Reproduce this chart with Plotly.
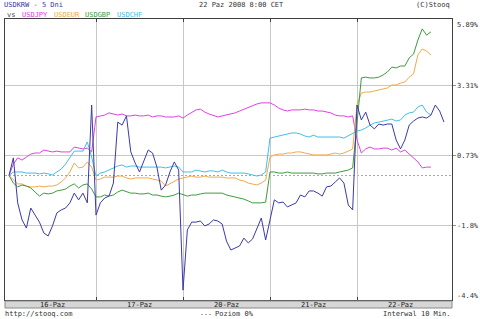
import plotly.graph_objects as go

# ---------------- data ----------------
days = ["16-Paz", "17-Paz", "20-Paz", "21-Paz", "22-Paz"]
sample_step = 0.05  # fraction of a trading day between samples

usdkrw = [0, 0.65, -1.01, -1.64, -1.94, -1.20, -1.46, -1.72, -2.12, -2.23,
          -1.86, -1.38, -1.27, -1.20, -1.01, -0.65, -0.90, -0.65, -1.01, 2.60,
          -1.46, -1.01, -0.83, -0.76, -0.28, 1.97, 1.86, 2.20, 0.87, 0.46,
          0.13, 0.57, 0.94, 0.83, 0.31, -0.54, -0.35, 0.13, 0.50, 0.20,
          -4.23, -2.01, -1.72, -1.72, -1.68, -1.86, -1.79, -1.64, -1.68, -1.79,
          -2.42, -2.75, -2.68, -2.60, -2.31, -2.49, -2.34, -1.97, -1.57, -2.38,
          -1.57, -0.90, -1.01, -0.98, -1.16, -1.09, -1.01, -0.72, -0.79, -0.57,
          -0.57, -0.65, -0.76, -0.42, -0.39, -0.24, -0.09, -0.28, -1.09, -1.27,
          2.60, 2.05, 2.34, 1.86, 1.72, 1.90, 1.86, 1.90, 1.90, 1.31,
          0.98, 1.31, 1.86, 2.01, 2.12, 2.16, 2.12, 2.23, 2.60, 2.38,
          1.97]

usdjpy = [0, 0.42, 0.65, 0.57, 0.68, 0.79, 0.83, 0.83, 0.94, 0.90,
          0.87, 0.90, 0.87, 0.87, 0.87, 1.05, 1.01, 0.98, 1.01, 0.87,
          2.16, 2.20, 2.23, 2.31, 2.27, 2.23, 2.27, 2.20, 2.20, 2.23,
          2.20, 2.20, 2.23, 2.16, 2.20, 2.20, 2.16, 2.16, 2.16, 2.20,
          2.12, 2.23, 2.34, 2.42, 2.45, 2.34, 2.27, 2.20, 2.16, 2.20,
          2.23, 2.27, 2.31, 2.38, 2.45, 2.53, 2.60, 2.64, 2.68, 2.68,
          2.68, 2.60, 2.49, 2.42, 2.38, 2.42, 2.42, 2.42, 2.45, 2.42,
          2.42, 2.38, 2.38, 2.34, 2.31, 2.23, 2.20, 2.20, 2.16, 2.20,
          1.31, 0.83, 0.98, 1.05, 0.98, 0.98, 1.01, 1.01, 0.94, 1.01,
          0.87, 0.94, 0.79, 0.65, 0.50, 0.28, 0.31, 0.31]

usdeur = [0, -0.17, -0.31, -0.31, -0.39, -0.42, -0.42, -0.39, -0.42, -0.39,
          -0.39, -0.35, -0.24, -0.09, 0.13, 0.46, 0.28, 0.31, 0.50, 0.31,
          -0.17, -0.13, -0.06, -0.06, -0.06, -0.02, -0.02, -0.09, -0.13, -0.09,
          -0.09, -0.09, -0.09, -0.13, -0.17, -0.20, -0.39, -0.31, -0.20, -0.13,
          -0.09, -0.06, -0.02, -0.06, -0.06, -0.02, -0.06, -0.06, -0.06, -0.06,
          -0.09, -0.09, -0.09, -0.17, -0.20, -0.28, -0.31, -0.35, -0.28, -0.17,
          0.68, 0.76, 0.79, 0.79, 0.83, 0.83, 0.87, 0.87, 0.83, 0.79,
          0.76, 0.76, 0.76, 0.76, 0.79, 0.83, 0.79, 0.83, 0.90, 0.98,
          2.60, 3.04, 3.08, 3.08, 3.12, 3.16, 3.19, 3.23, 3.34, 3.34,
          3.41, 3.45, 3.63, 3.75, 4.45, 4.67, 4.59, 4.45]

usdgbp = [0, -0.28, -0.42, -0.35, -0.39, -0.46, -0.61, -0.76, -0.65, -0.68,
          -0.65, -0.57, -0.54, -0.50, -0.39, -0.31, -0.46, -0.35, -0.31, -0.50,
          -0.79, -0.79, -0.72, -0.76, -0.72, -0.61, -0.54, -0.61, -0.65, -0.65,
          -0.68, -0.68, -0.65, -0.72, -0.72, -0.76, -0.79, -0.76, -0.72, -0.65,
          -0.72, -0.76, -0.72, -0.72, -0.68, -0.65, -0.65, -0.65, -0.65, -0.65,
          -0.72, -0.76, -0.79, -0.83, -0.87, -0.94, -1.01, -1.01, -1.01, -0.98,
          0.13, 0.13, 0.09, 0.09, 0.13, 0.09, 0.09, 0.09, 0.09, 0.09,
          0.09, 0.06, 0.06, 0.09, 0.09, 0.09, 0.13, 0.17, 0.20, 0.28,
          2.05, 3.60, 3.63, 3.60, 3.60, 3.63, 3.71, 3.82, 4.00, 3.97,
          4.04, 4.04, 4.34, 4.48, 5.00, 5.41, 5.18, 5.30]

usdchf = [0, 0.13, 0.13, 0.13, 0.09, 0.09, 0.09, 0.06, 0.09, 0.06,
          0.02, 0.13, 0.24, 0.42, 0.68, 0.90, 0.90, 0.90, 1.24, 0.68,
          -0.02, 0.09, 0.13, 0.20, 0.28, 0.35, 0.39, 0.31, 0.35, 0.35,
          0.31, 0.31, 0.31, 0.31, 0.31, 0.31, 0.28, 0.31, 0.35, 0.31,
          0.13, 0.13, 0.13, 0.20, 0.17, 0.13, 0.17, 0.17, 0.13, 0.20,
          0.13, 0.09, 0.09, 0.09, 0.09, 0.06, 0.02, -0.02, 0.02, 0.13,
          1.38, 1.42, 1.46, 1.49, 1.53, 1.57, 1.57, 1.53, 1.46, 1.42,
          1.49, 1.42, 1.42, 1.42, 1.42, 1.42, 1.42, 1.38, 1.46, 1.53,
          1.64, 1.68, 1.75, 1.86, 1.94, 1.97, 2.01, 2.05, 2.08, 2.01,
          2.05, 2.23, 2.31, 2.34, 2.53, 2.60, 2.34, 2.23]

y_label_values = [5.89, 3.31, 0.73, -1.85, -4.43]
y_label_texts = ["5.89%", "3.31%", "0.73%", "-1.8%", "-4.4%"]
grid_values = [3.31, 0.73, -1.85]

series = [
    ("USDJPY", usdjpy, "#e040e0"),
    ("USDEUR", usdeur, "#f2a84a"),
    ("USDGBP", usdgbp, "#3c9c3c"),
    ("USDCHF", usdchf, "#40c0e4"),
    ("USDKRW", usdkrw, "#3a3aaa"),
]

# ---------------- layout geometry ----------------
W, H = 480, 319
PL, PR, PT, PB = 5, 452, 19, 300   # plot area in pixels
PW, PH = PR - PL, PB - PT
XMIN, XMAX = -0.046, 5.092
YMIN, YMAX = -4.594, 5.775
FONT = "DejaVu Sans Mono"


def px(x):
    return (x - PL) / PW


def py(y):
    return (PB - y) / PH


fig = go.Figure()
for name, vals, col in series:
    t = [i * sample_step for i in range(len(vals))]
    fig.add_trace(go.Scatter(x=t, y=vals, mode="lines", name=name,
                             line=dict(color=col, width=1), hoverinfo="skip"))

shapes = [
    # zero level dashed line
    dict(type="line", xref="paper", yref="y", x0=0, x1=1, y0=0, y1=0,
         line=dict(color="#a8a8a8", width=1, dash="2px,2px"), layer="below"),
    # date band under plot
    dict(type="rect", xref="paper", yref="paper", x0=0, x1=1,
         y0=py(301), y1=py(308), fillcolor="#d6d6d6",
         line=dict(color="#8a8a8a", width=1)),
    # legend sample of the dashed zero level in the footer
    dict(type="line", xref="paper", yref="paper", x0=px(201), x1=px(211),
         y0=py(314.5), y1=py(314.5),
         line=dict(color="#a8a8a8", width=1, dash="2px,2px")),
]

ann = []
# day labels
for k, d in enumerate(days):
    ann.append(dict(x=k + 0.5, y=py(304.5), xref="x", yref="paper", text=d,
                    showarrow=False, font=dict(family=FONT, size=7, color="#222"),
                    xanchor="center", yanchor="middle"))
# y labels on the right
for v, txt in zip(y_label_values, y_label_texts):
    yp = (v - YMIN) / (YMAX - YMIN)
    yp = min(max(yp, py(295.5)), py(25))
    ann.append(dict(x=px(455), y=yp, xref="paper", yref="paper", text=txt,
                    showarrow=False, font=dict(family=FONT, size=7, color="#333"),
                    xanchor="left", yanchor="middle"))


def label(x, y, text, color, anchor="left", size=7):
    ann.append(dict(x=px(x), y=py(y), xref="paper", yref="paper", text=text,
                    showarrow=False, font=dict(family=FONT, size=size, color=color),
                    xanchor=anchor, yanchor="middle"))


label(2, 5, "USDKRW - 5 Dni", "#3a3a9a")
label(197, 5, "22 Paz 2008 8:00 CET", "#333")
label(452, 5, "(C)Stooq", "#333", anchor="right")
label(5, 14.5, "vs", "#444")
label(20, 14.5, "USDJPY", "#e040e0")
label(52, 14.5, "USDEUR", "#f2a84a")
label(83, 14.5, "USDGBP", "#3c9c3c")
label(115, 14.5, "USDCHF", "#40c0e4")
label(3, 314.5, "http://stooq.com", "#333")
label(213, 314.5, "Poziom 0%", "#333")
label(452, 314.5, "Interwal 10 Min.", "#333", anchor="right")

fig.update_layout(
    width=W, height=H,
    margin=dict(l=PL, r=W - PR, t=PT, b=H - PB, pad=0),
    paper_bgcolor="white", plot_bgcolor="white",
    showlegend=False,
    shapes=shapes, annotations=ann,
    xaxis=dict(range=[XMIN, XMAX], tickvals=[1, 2, 3, 4], showticklabels=False,
               showgrid=True, gridcolor="#c8c8c8", gridwidth=1, zeroline=False,
               showline=True, linecolor="#404040", linewidth=1, mirror="ticks",
               ticks="inside", ticklen=3, tickcolor="#404040"),
    yaxis=dict(range=[YMIN, YMAX], tickvals=grid_values, showticklabels=False,
               showgrid=True, gridcolor="#c8c8c8", gridwidth=1, zeroline=False,
               showline=True, linecolor="#404040", linewidth=1, mirror=True,
               side="right", ticks="outside", ticklen=3, tickcolor="#909090"),
)

fig.write_html("out.html")
